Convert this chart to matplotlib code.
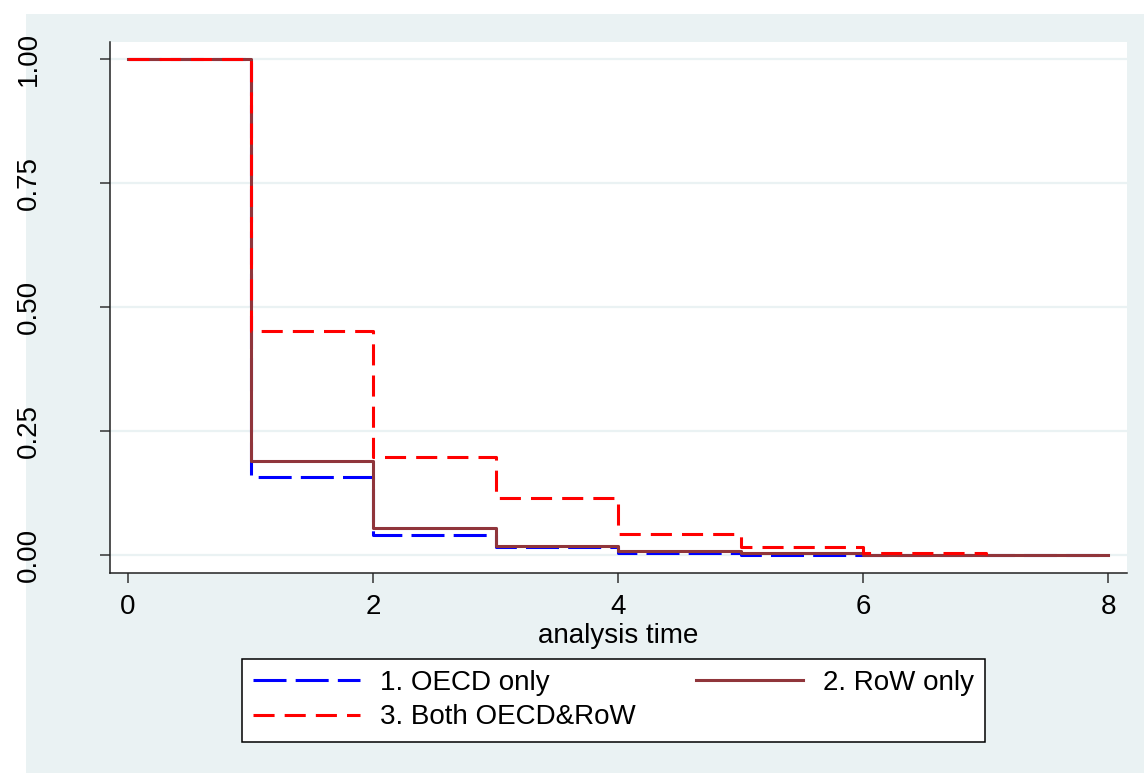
import numpy as np
import matplotlib
matplotlib.use("Agg")
import matplotlib.pyplot as plt
from matplotlib.patches import Rectangle

plt.rcParams['font.family'] = ['Liberation Sans', 'DejaVu Sans']

# Kaplan-Meier style survival estimates
time = [0, 1, 2, 3, 4, 5, 6, 7, 8]
oecd_only = [1.0, 0.157, 0.041, 0.0155, 0.005, 0.0, 0.0, 0.0, 0.0]
row_only = [1.0, 0.190, 0.055, 0.019, 0.008, 0.0035, 0.0, 0.0, 0.0]
time_both = [0, 1, 2, 3, 4, 5, 6, 7]
both = [1.0, 0.452, 0.197, 0.1155, 0.042, 0.0167, 0.005, 0.0]

labels = ['1. OECD only', '2. RoW only', '3. Both OECD&RoW']
xticks = [0, 2, 4, 6, 8]
yticks = [0.0, 0.25, 0.5, 0.75, 1.0]
ytick_labels = ['0.00', '0.25', '0.50', '0.75', '1.00']

BG = '#EAF2F3'
W, H = 1144, 773
fig = plt.figure(figsize=(W / 100, H / 100), dpi=100)
fig.patch.set_facecolor('white')
fig.add_artist(Rectangle((26 / W, 0), 1 - 26 / W, 1 - 14 / H, transform=fig.transFigure,
                         facecolor=BG, edgecolor='none', zorder=-5))

ax = fig.add_axes([110 / W, 1 - 573 / H, 1017 / W, 531 / H])
ax.set_facecolor('white')

lw = 2.2
l1, = ax.step(time, oecd_only, where='post', color='#0000FF', lw=lw, zorder=3)
l1.set_dashes((10.8, 3.0))
l2, = ax.step(time, row_only, where='post', color='#90353B', lw=lw, zorder=4)
l3, = ax.step(time_both, both, where='post', color='#FF0000', lw=lw, zorder=5)
l3.set_dashes((6.9, 3.3))

ax.set_xlim(-0.147, 8.155)
ax.set_ylim(-0.036, 1.034)
ax.set_xticks(xticks)
ax.set_yticks(yticks)
ax.set_yticklabels(ytick_labels, rotation=90)
# anchor each rotated label on its baseline so the crop cuts them all alike
for t in ax.get_yticklabels():
    t.set_rotation_mode('anchor')
    t.set_ha('center')
    t.set_va('baseline')
ax.grid(axis='y', color=BG, lw=1.6, zorder=0)
ax.set_axisbelow(True)

for s in ['top', 'right']:
    ax.spines[s].set_visible(False)
for s in ['left', 'bottom']:
    ax.spines[s].set_color('#222222')
    ax.spines[s].set_linewidth(1.1)

ax.tick_params(axis='both', direction='out', length=7.2, width=1.1, color='#333333',
               labelsize=20, labelcolor='black')
ax.tick_params(axis='x', pad=8)
ax.tick_params(axis='y', pad=46)
ax.set_xlabel('analysis time', fontsize=20, labelpad=2)

# Stata fills the legend row by row; matplotlib fills columns first
leg = fig.legend([l1, l3, l2], [labels[0], labels[2], labels[1]], ncol=2, loc='upper left',
                 bbox_to_anchor=(242 / W, 1 - 659 / H), borderaxespad=0,
                 fontsize=20, handlelength=3.85, handletextpad=0.7,
                 columnspacing=2.2, labelspacing=0.3, borderpad=0.4,
                 fancybox=False, framealpha=1, edgecolor='black')
leg.get_frame().set_linewidth(1.1)

# the reference is cropped on the left, cutting the tops of the y labels
fig.add_artist(Rectangle((0, 0), 17 / W, 1, transform=fig.transFigure,
                         facecolor='white', edgecolor='none', zorder=20))

fig.savefig('out.png', dpi=100)
